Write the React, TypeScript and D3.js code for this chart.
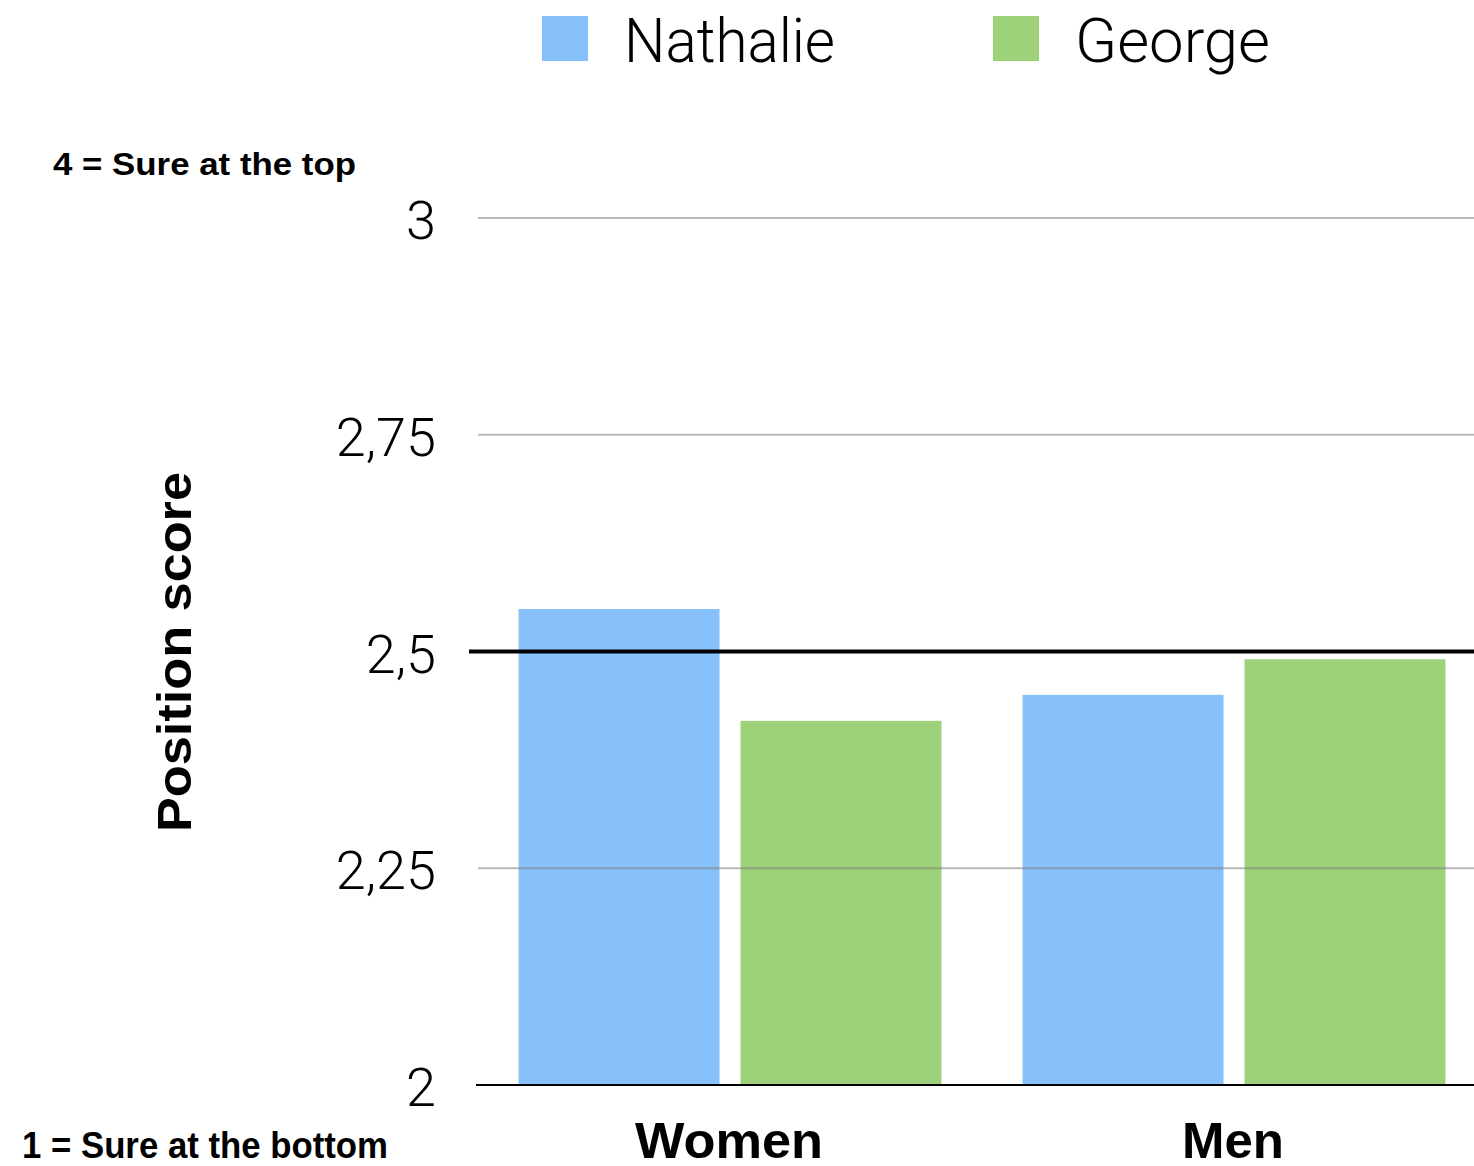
import React from 'react'
import * as d3 from 'd3'

const groups = ['Women', 'Men']
const seriesNames = ['Nathalie', 'George']
const nathalie = [2.549, 2.45]
const george = [2.42, 2.491]
const yTicks = [2, 2.25, 2.5, 2.75, 3]
const refValue = 2.5

const colors = ['#87c1fa', '#9dd27a']

export default function App() {
  const width = 1474
  const height = 1166

  const y = d3.scaleLinear().domain([2, 3]).range([1085, 218])
  const x0 = d3.scaleBand().domain(groups).range([478, 1486]).padding(0)
  const x1 = d3
    .scaleBand()
    .domain(seriesNames)
    .range([0, x0.bandwidth()])
    .paddingInner(0.0946)
    .paddingOuter(0.1826)

  const locale = d3.formatLocale({ decimal: ',', thousands: '.', grouping: [3], currency: ['', ''] })
  const fmt = locale.format('~g')

  const values = [nathalie, george]
  const groupLabelWidth = [188, 102]

  const lightFont = 'Roboto, "Open Sans", sans-serif'
  const boldFont = '"Liberation Sans", Arial, sans-serif'

  return (
    <div style={{ position: 'absolute', left: 0, top: 0 }}>
      <svg width={width} height={height} style={{ display: 'block', background: '#fff' }}>
        {/* bars */}
        {groups.map((g, gi) =>
          seriesNames.map((s, si) => (
            <rect
              key={g + s}
              x={(x0(g) as number) + (x1(s) as number)}
              y={y(values[si][gi])}
              width={x1.bandwidth()}
              height={y(2) - y(values[si][gi])}
              fill={colors[si]}
            />
          ))
        )}

        {/* grid */}
        {yTicks
          .filter((t) => t !== 2 && t !== refValue)
          .map((t) => (
            <line key={t} x1={478} x2={width} y1={y(t)} y2={y(t)} stroke="#808080" strokeOpacity={0.55} strokeWidth={2} />
          ))}

        {/* reference line */}
        <line x1={469} x2={width} y1={y(refValue)} y2={y(refValue)} stroke="#000" strokeWidth={4} />
        {/* baseline */}
        <line x1={476} x2={width} y1={y(2)} y2={y(2)} stroke="#000" strokeWidth={2} />

        {/* y tick labels */}
        {yTicks.map((t) => (
          <text
            key={t}
            x={436}
            y={y(t) + 21}
            textAnchor="end"
            fontFamily={lightFont}
            fontWeight={300}
            fontSize={54}
            fill="#000"
          >
            {fmt(t)}
          </text>
        ))}

        {/* x labels */}
        {groups.map((g, i) => (
          <text
            key={g}
            x={(x0(g) as number) + x0.bandwidth() / 2 - 1}
            y={1158}
            textAnchor="middle"
            fontFamily={boldFont}
            fontWeight={700}
            fontSize={50}
            textLength={groupLabelWidth[i]}
            lengthAdjust="spacingAndGlyphs"
            fill="#000"
          >
            {g}
          </text>
        ))}

        {/* y axis title */}
        <text
          transform={`translate(191, 652) rotate(-90)`}
          textAnchor="middle"
          fontFamily={boldFont}
          fontWeight={700}
          fontSize={49}
          textLength={360}
          lengthAdjust="spacingAndGlyphs"
          fill="#000"
        >
          Position score
        </text>

        <text x={53} y={175} fontFamily={boldFont} fontWeight={700} fontSize={32} textLength={303} lengthAdjust="spacingAndGlyphs" fill="#000">
          4 = Sure at the top
        </text>
        <text x={22} y={1158} fontFamily={boldFont} fontWeight={700} fontSize={36} textLength={366} lengthAdjust="spacingAndGlyphs" fill="#000">
          1 = Sure at the bottom
        </text>

        {/* legend */}
        {seriesNames.map((s, i) => {
          const lx = [542, 993][i]
          const tw = [211, 195][i]
          return (
            <g key={s}>
              <rect x={lx} y={16} width={46} height={45} fill={colors[i]} />
              <text
                x={lx + 82}
                y={62}
                fontFamily={lightFont}
                fontWeight={300}
                fontSize={62}
                textLength={tw}
                lengthAdjust="spacingAndGlyphs"
                fill="#000"
              >
                {s}
              </text>
            </g>
          )
        })}
      </svg>
    </div>
  )
}
